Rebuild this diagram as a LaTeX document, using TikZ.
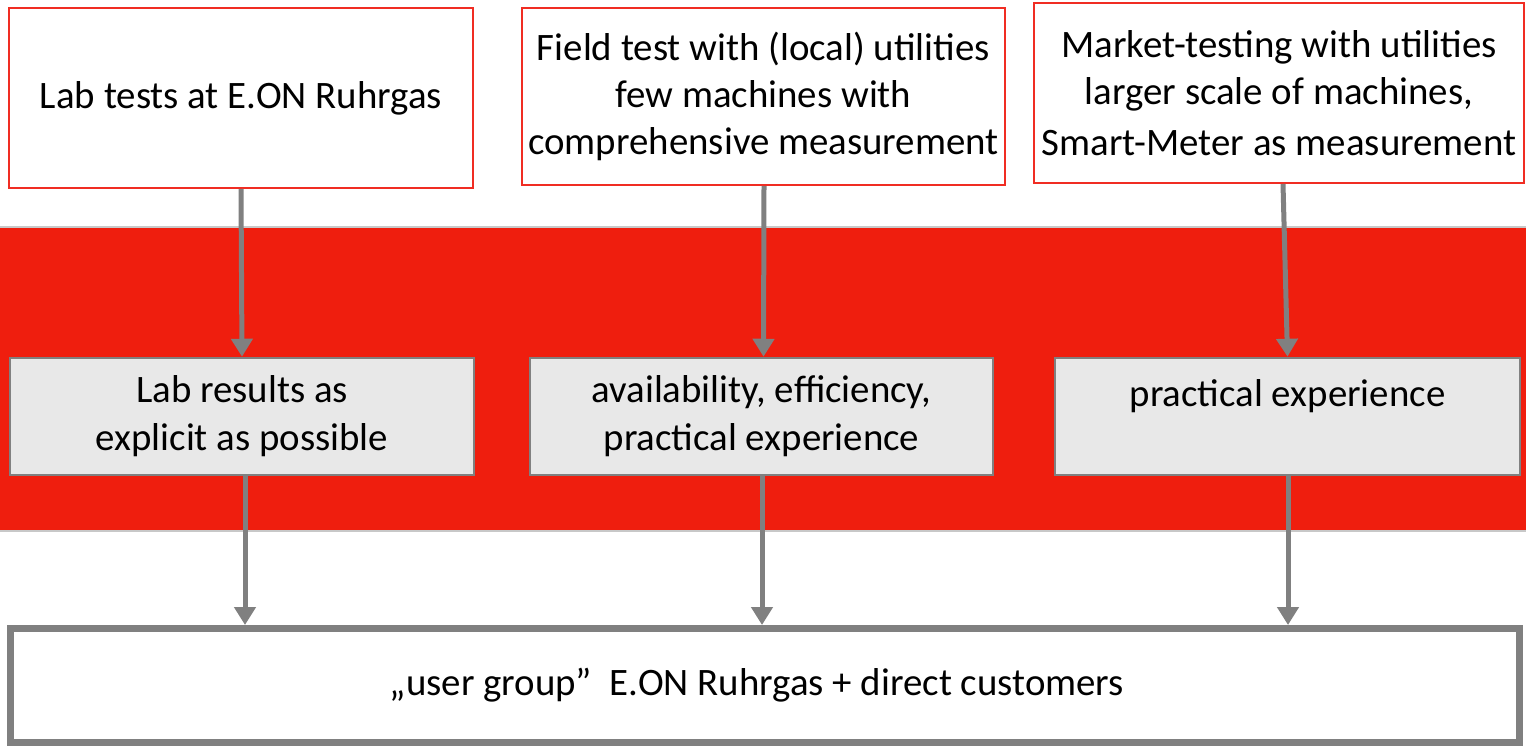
\documentclass[tikz,border=0pt]{standalone}
\usepackage{fontspec}
\setmainfont{Carlito}
\usetikzlibrary{arrows.meta}
\definecolor{bandred}{RGB}{239,30,14}
\definecolor{boxred}{RGB}{240,45,35}
\definecolor{arrgray}{RGB}{128,128,128}
\definecolor{midfill}{RGB}{232,232,232}
\definecolor{bandline}{RGB}{200,200,200}
\tikzset{
  topbox/.style={draw=boxred, line width=2bp, fill=white, align=center, inner sep=0pt, font=\fontsize{39}{47}\selectfont},
  midbox/.style={draw=arrgray, line width=2.5bp, fill=midfill, align=center, inner sep=0pt, font=\fontsize{39}{48}\selectfont},
  botbox/.style={draw=arrgray, line width=7bp, fill=white, align=center, inner sep=0pt, font=\fontsize{39}{47}\selectfont},
  arr/.style={draw=arrgray, line width=5bp, -{Triangle[width=21bp,length=18bp]}}
}
\begin{document}
\begin{tikzpicture}[x=1bp,y=-1bp]
\useasboundingbox (0,0) rectangle (1526,746);
\fill[white] (0,0) rectangle (1526,746);
% red band
\fill[bandred] (0,228) rectangle (1526,530);
\draw[bandline, line width=2bp] (0,227) -- (1526,227);
\draw[bandline, line width=2bp] (0,531) -- (1526,531);
% top boxes
\node[topbox, minimum width=464bp, minimum height=180bp] (t1) at (241,98) {Lab tests at E.ON Ruhrgas};
\node[topbox, minimum width=483bp, minimum height=177bp] (t2) at (763.5,96.5) {Field test with (local) utilities\\few machines with\\comprehensive measurement};
\node[topbox, minimum width=490bp, minimum height=180bp] (t3) at (1279,93) {Market-testing with utilities\\larger scale of machines,\\[4bp]Smart-Meter as measurement};
% middle boxes
\node[midbox, minimum width=464bp, minimum height=117bp] (m1) at (242,416.5) {Lab results as\\explicit as possible};
\node[midbox, minimum width=463bp, minimum height=117bp] (m2) at (761.5,416.5) {availability, efficiency,\\practical experience};
\node[midbox, minimum width=465bp, minimum height=117bp] (m3) at (1287.5,416.5) {practical experience\\\phantom{x}};
% bottom box
\node[botbox, minimum width=1509bp, minimum height=114bp] (b) at (765,685.5) {\hspace*{-16bp}„user group”\ \ E.ON Ruhrgas + direct customers};
% arrows top -> middle
\draw[arr] (t1.south) -- (m1.north);
\draw[arr] ([xshift=0.5bp]t2.south) -- ([xshift=2bp]m2.north);
\draw[arr] ([xshift=4bp]t3.south) -- (m3.north);
% arrows middle -> bottom
\draw[arr] ([xshift=3bp]m1.south) -- ([xshift=3bp]m1.south |- b.north);
\draw[arr] ([xshift=0.5bp]m2.south) -- ([xshift=0.5bp]m2.south |- b.north);
\draw[arr] ([xshift=0.5bp]m3.south) -- ([xshift=0.5bp]m3.south |- b.north);
\end{tikzpicture}
\end{document}
